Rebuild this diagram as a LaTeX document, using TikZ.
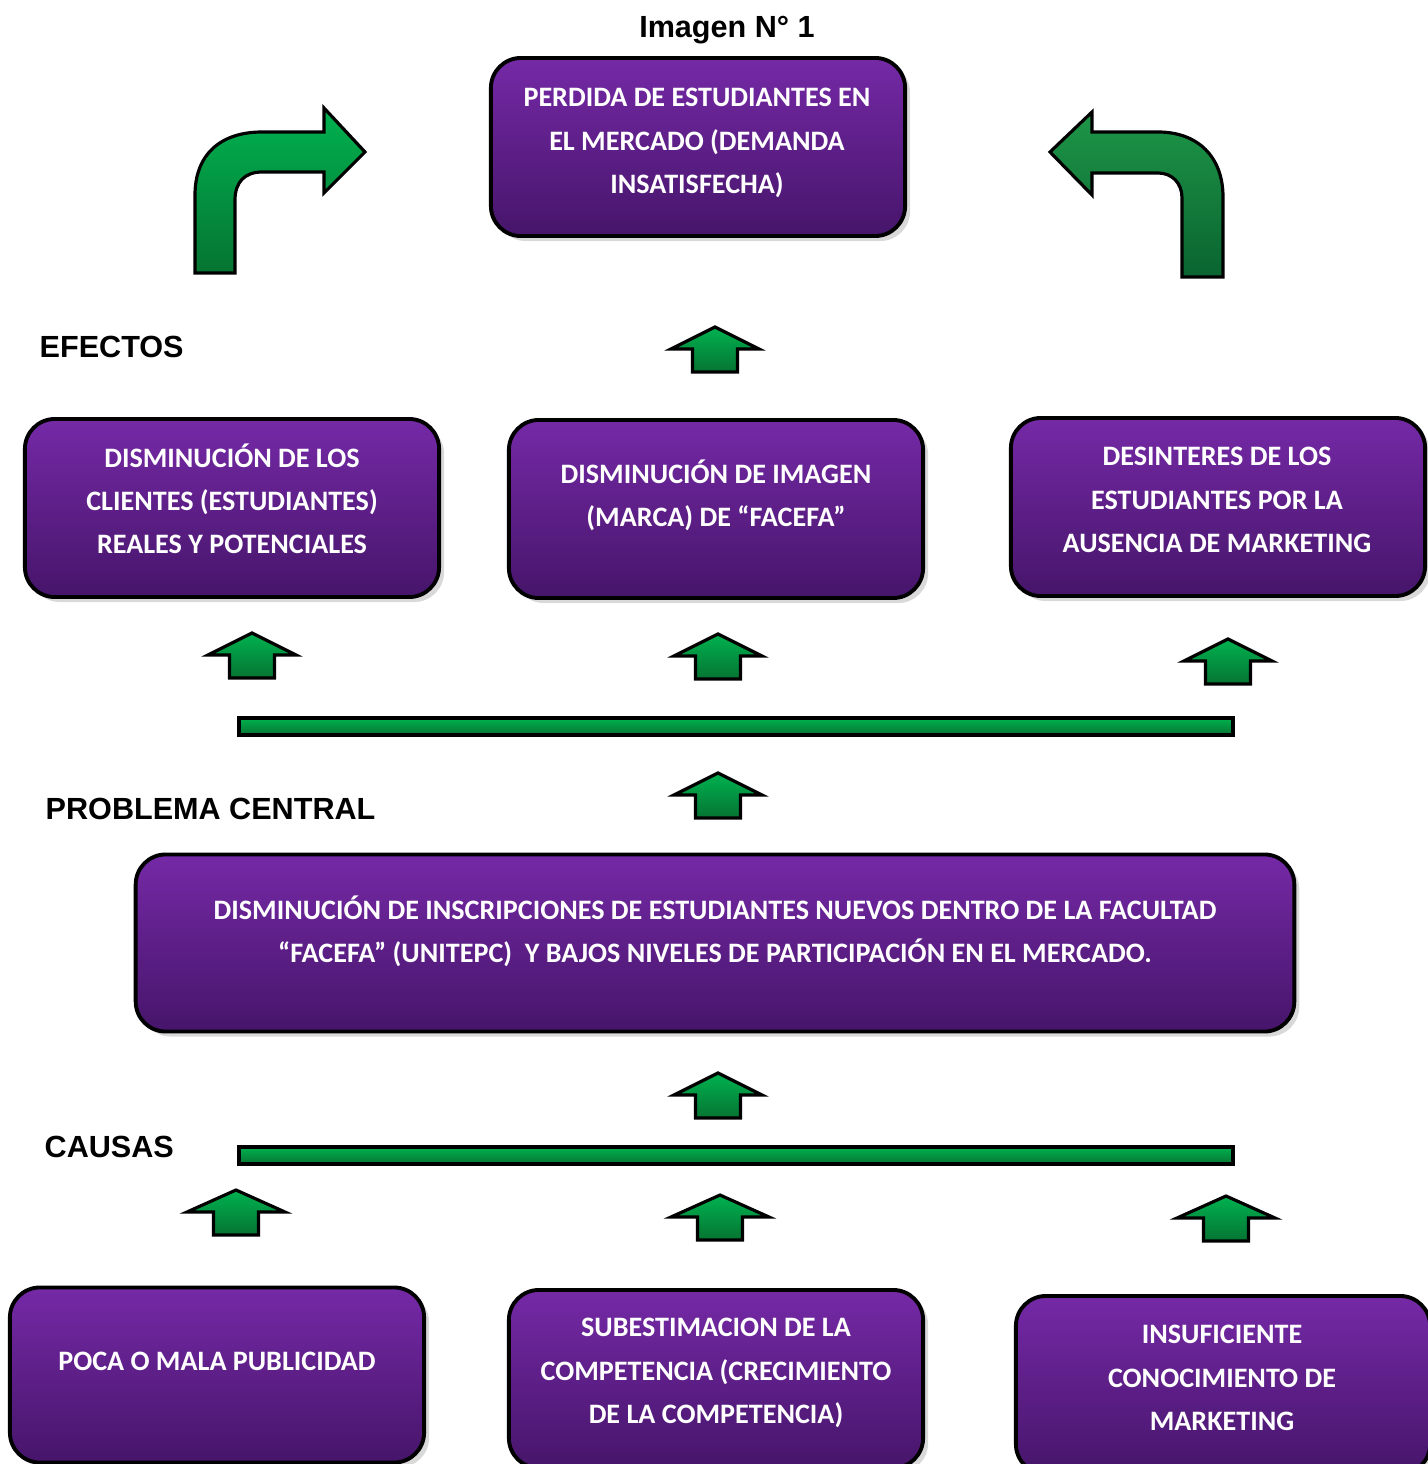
\documentclass[tikz,border=0pt]{standalone}
\usepackage{fontspec}
\setmainfont{Carlito}
\newfontfamily\arialfont{Liberation Sans}
\usetikzlibrary{shadows}

\definecolor{moradoclaro}{RGB}{117,41,166}
\definecolor{moradooscuro}{RGB}{70,21,106}
\definecolor{verdeclaro}{RGB}{0,178,80}
\definecolor{verdeoscuro}{RGB}{6,116,50}
\definecolor{verdemedio}{RGB}{30,150,72}
\definecolor{verdeprofundo}{RGB}{10,100,48}

\tikzset{
  caja/.style={draw=black, line width=1.1pt, rounded corners=0.3cm,
    top color=moradoclaro, bottom color=moradooscuro,
    minimum width=4.14cm, minimum height=1.78cm, inner sep=0pt,
    drop shadow={shadow xshift=0.05cm, shadow yshift=-0.05cm, opacity=0.3}},
  textocaja/.style={text=white, font=\bfseries\fontsize{8}{12.3}\selectfont, align=center, inner sep=0pt},
  titulo/.style={font=\arialfont\bfseries\fontsize{8.7}{10}\selectfont, inner sep=0pt},
  flecha/.style={draw=black, line width=0.9pt, top color=verdeclaro, bottom color=verdeoscuro},
}

\begin{document}
\begin{tikzpicture}[x=0.01cm, y=-0.01cm]
  \useasboundingbox (0,0) rectangle (1427,1464);

  % titulos
  \node[titulo, anchor=base] (imagen) at (727,38) {Imagen N° 1};
  \node[titulo, anchor=base west] (efectos) at (39,358) {EFECTOS};
  \node[titulo, anchor=base west] (problema) at (45,819) {PROBLEMA CENTRAL};
  \node[titulo, anchor=base west] (causas) at (44,1157) {CAUSAS};

  % cajas
  \node[caja] (perdida) at (698,147) {};
  \node[textocaja] (perdidatxt) at (697,143) {PERDIDA DE ESTUDIANTES EN\\EL MERCADO (DEMANDA\\INSATISFECHA)};

  \node[caja] (efecto1) at (232,508) {};
  \node[textocaja] (efecto1txt) at (232,499) {DISMINUCIÓN DE LOS\\CLIENTES (ESTUDIANTES)\\REALES Y POTENCIALES};

  \node[caja] (efecto2) at (716,509) {};
  \node[textocaja] (efecto2txt) at (716,495) {DISMINUCIÓN DE IMAGEN\\(MARCA) DE “FACEFA”};

  \node[caja] (efecto3) at (1218,507) {};
  \node[textocaja] (efecto3txt) at (1217,500) {DESINTERES DE LOS\\ESTUDIANTES POR LA\\AUSENCIA DE MARKETING};

  \node[caja, minimum width=11.58cm, minimum height=1.77cm] (central) at (715,943) {};
  \node[textocaja] (centraltxt) at (715,931) {DISMINUCIÓN DE INSCRIPCIONES DE ESTUDIANTES NUEVOS DENTRO DE LA FACULTAD\\“FACEFA” (UNITEPC)\ \ Y BAJOS NIVELES DE PARTICIPACIÓN EN EL MERCADO.};

  \node[caja, minimum height=1.75cm] (causa1) at (217,1375) {};
  \node[textocaja] (causa1txt) at (217,1361) {POCA O MALA PUBLICIDAD};

  \node[caja] (causa2) at (716,1379) {};
  \node[textocaja] (causa2txt) at (716,1373) {SUBESTIMACION DE LA\\COMPETENCIA (CRECIMIENTO\\DE LA COMPETENCIA)};

  \node[caja] (causa3) at (1223,1385) {};
  \node[textocaja] (causa3txt) at (1222,1378) {INSUFICIENTE\\CONOCIMIENTO DE\\MARKETING};

  % flechas curvas
  \draw[flecha] (195,273) -- (195,195) .. controls (195,155) and (220,132) .. (262,132)
    -- (324,132) -- (324,108) -- (365,152) -- (324,193) -- (324,172) -- (262,172)
    .. controls (245,172) and (235,182) .. (235,200) -- (235,273) -- cycle;
  \draw[flecha, top color=verdemedio, bottom color=verdeprofundo] (1223,277) -- (1223,197)
    .. controls (1223,157) and (1198,132) .. (1158,132)
    -- (1092,132) -- (1092,112) -- (1050,152) -- (1092,195) -- (1092,173) -- (1158,173)
    .. controls (1172,173) and (1182,183) .. (1182,198) -- (1182,277) -- cycle;

  % barras
  \draw[flecha] (239,718) rectangle (1233,735);
  \draw[flecha] (239,1147) rectangle (1233,1164);

  % flechas pequenas
  \foreach \x/\y/\w in {715/327/44, 252/633/44, 718/634/44, 1228/639/44, 718/773/44, 718/1073/44,
                        236/1190/49, 720/1195/49, 1226/1196/49}
    \draw[flecha, shift={(\x,\y)}] (0,0) -- (\w,22) -- (22.5,22) -- (22.5,45)
      -- (-22.5,45) -- (-22.5,22) -- (-\w,22) -- cycle;
\end{tikzpicture}
\end{document}
